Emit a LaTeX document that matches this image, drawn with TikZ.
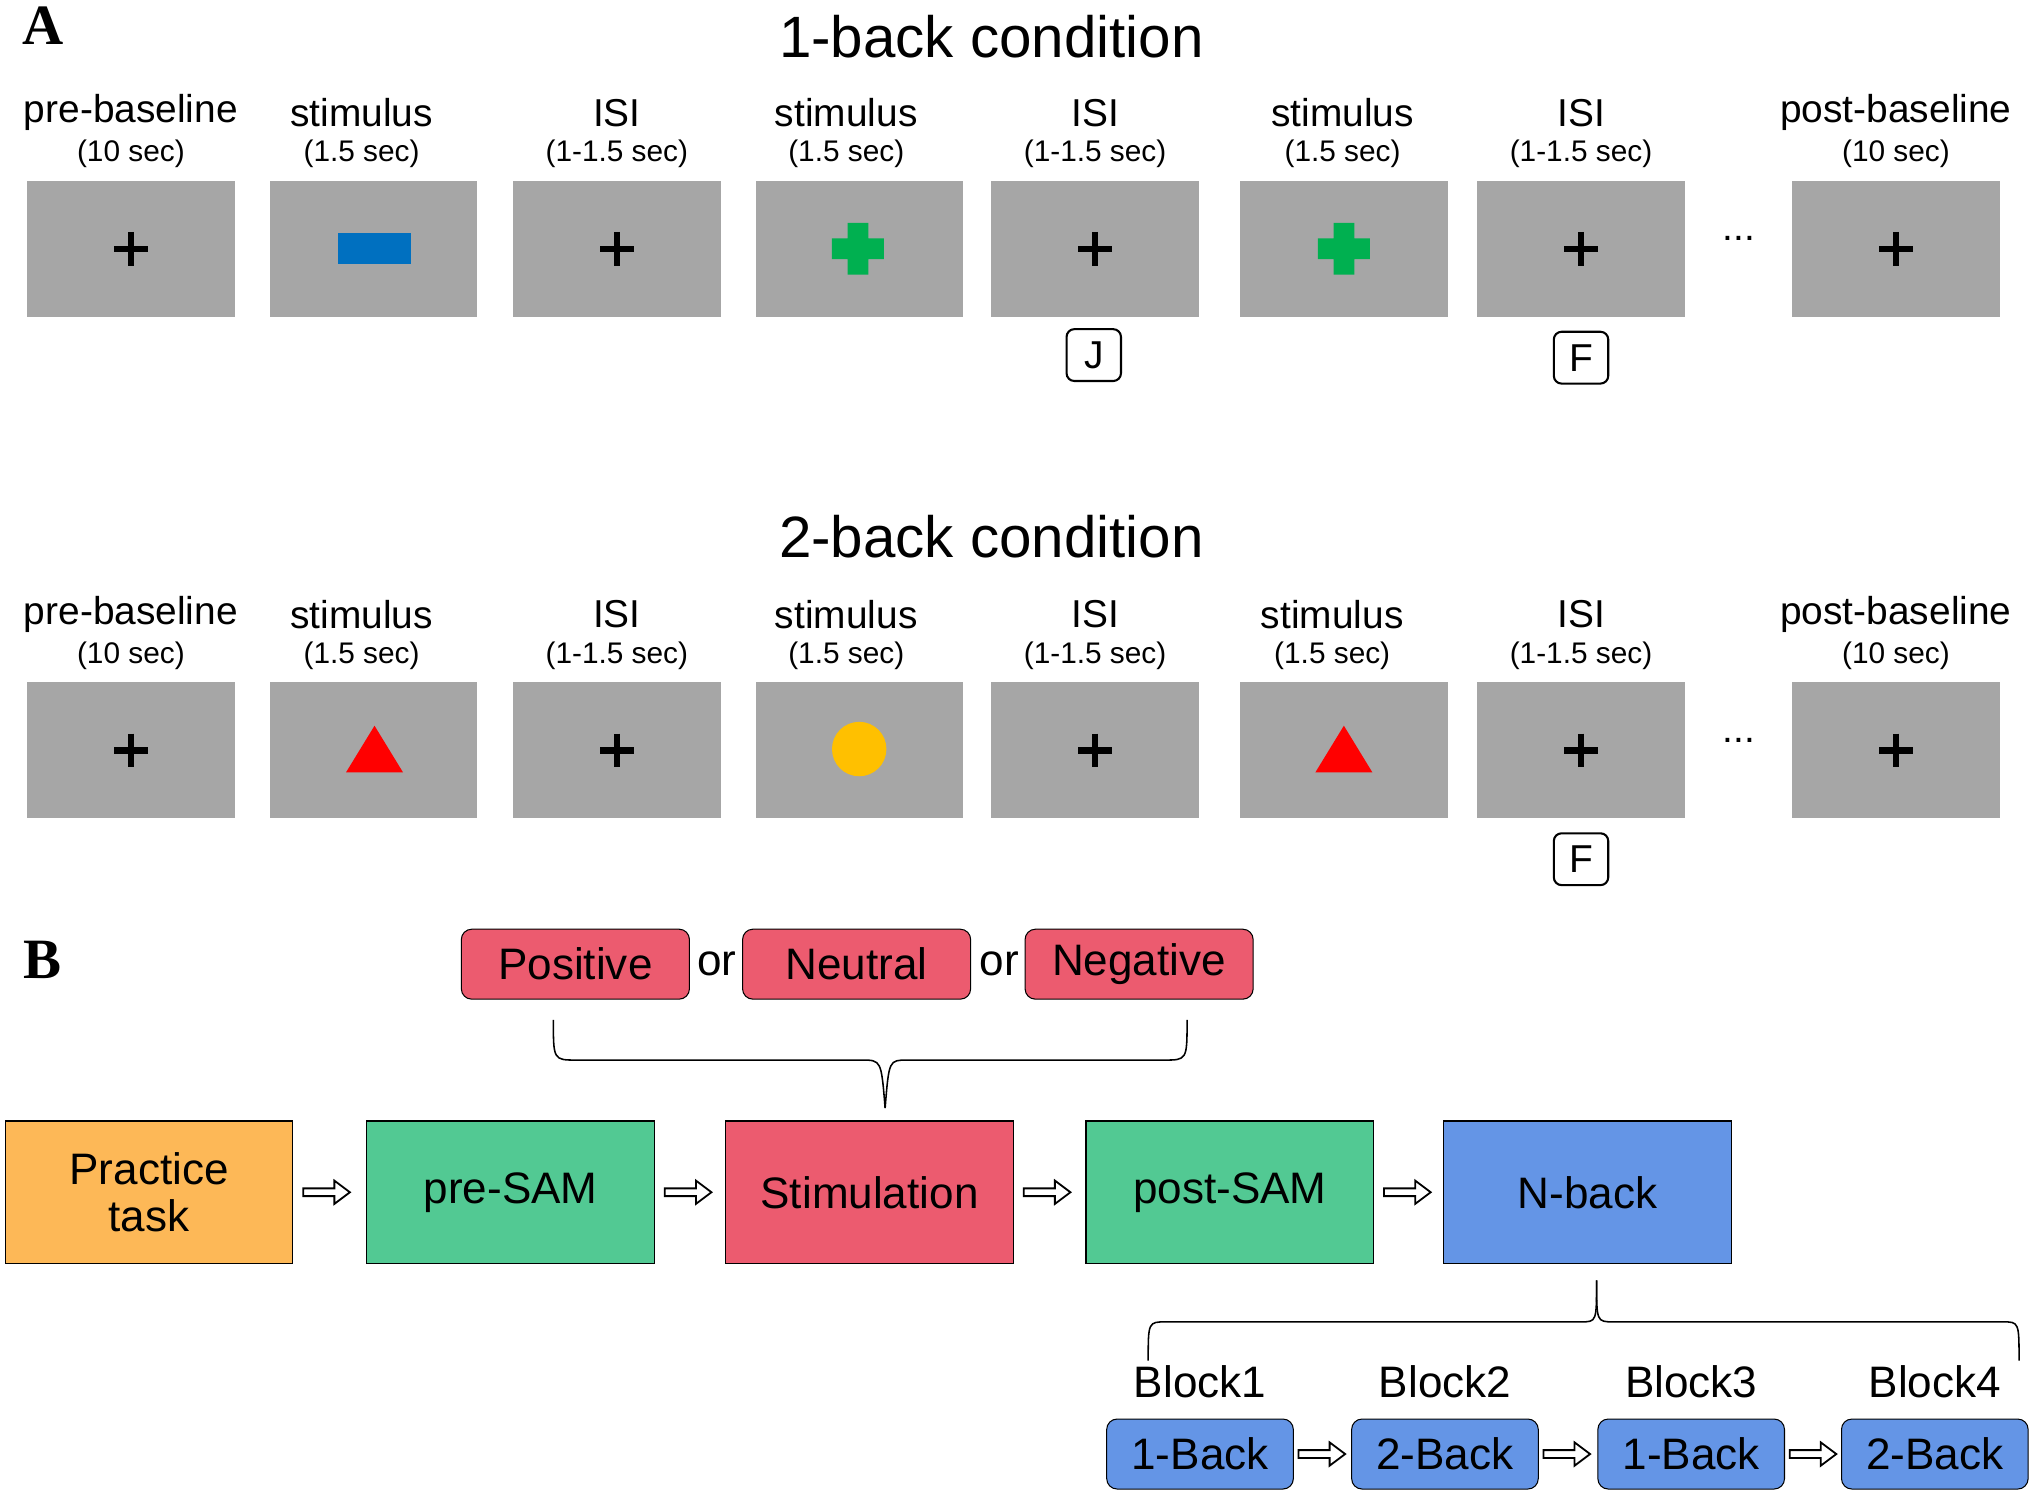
\documentclass[tikz,border=0pt]{standalone}
\usepackage{fontspec}
\setmainfont{Liberation Sans}
\newfontfamily\serifb{Liberation Serif}
\begin{document}
\begin{tikzpicture}[x=0.5pt,y=-0.5pt,
 scr/.style={fill=black!35,draw=none,minimum width=80pt,minimum height=52.5pt,inner sep=0},
 lab/.style={font=\fontsize{15}{17}\selectfont,inner sep=0},
 sec/.style={font=\fontsize{11.5}{13}\selectfont,inner sep=0},
 key/.style={draw,rounded corners=3pt,line width=0.8pt,minimum width=21pt,minimum height=20pt,font=\fontsize{15}{17}\selectfont,inner sep=0},
 ttl/.style={font=\fontsize{22.5}{26}\selectfont},
 emo/.style={draw,rounded corners=4pt,fill=emo,minimum width=88pt,minimum height=27pt,font=\fontsize{17}{20}\selectfont,inner sep=0},
 big/.style={draw,minimum width=111pt,minimum height=55pt,font=\fontsize{17}{20}\selectfont,align=center,inner sep=0},
 bk/.style={draw,rounded corners=4pt,fill=nb,minimum width=72pt,minimum height=27pt,font=\fontsize{17}{20}\selectfont,inner sep=0},
 pc/.style={line width=2.5pt}]
\definecolor{emo}{HTML}{EC5B6F}
\definecolor{nb}{HTML}{6495E6}
\definecolor{og}{HTML}{FDB857}
\definecolor{gr}{HTML}{52C993}
\useasboundingbox (0,0) rectangle (1568,1151);
\newcommand{\fixc}[2]{\draw[pc] (#1-13,#2)--(#1+13,#2) (#1,#2-13)--(#1,#2+13);}
\newcommand{\harr}[3]{\draw[line width=0.7pt,fill=white] (#1,#2-3)--(#1+#3-12,#2-3)--(#1+#3-12,#2-9)--(#1+#3,#2)--(#1+#3-12,#2+9)--(#1+#3-12,#2+3)--(#1,#2+3)--cycle;}
\node[font=\serifb\bfseries\fontsize{22}{26}\selectfont] (A) at (33,20) {A};
\node[font=\serifb\bfseries\fontsize{22}{26}\selectfont] (B) at (33,741) {B};
\node[ttl] (t1) at (765,28) {1-back condition};
\node[ttl] (t2) at (765,414) {2-back condition};
\foreach \r/\yb/\yl/\sx in {1/192/87/1036,2/579/474/1028}{
 \foreach \i/\x/\lx/\a/\b in {1/101/101/pre-baseline/(10 sec),2/288/279/stimulus/(1.5 sec),3/476/476/ISI/(1-1.5 sec),4/663/653/stimulus/(1.5 sec),5/845/845/ISI/(1-1.5 sec),6/1037/\sx/stimulus/(1.5 sec),7/1220/1220/ISI/(1-1.5 sec),8/1463/1463/post-baseline/(10 sec)}{
  \node[scr] (s\r\i) at (\x,\yb) {};
  \node[lab] (l\r\i) at (\lx,\yl) {\a};
  \node[sec] (c\r\i) at (\lx,\yl+32) {\b};
 }
 \node[lab] (d\r) at (1342,\yb-8) {...};
}
\foreach \x in {101,476,845,1220,1463}{\fixc{\x}{192}\fixc{\x}{579}}
\definecolor{sblue}{HTML}{0070C0}
\definecolor{sgreen}{HTML}{00B050}
\definecolor{syel}{HTML}{FFC000}
\fill[sblue] (261,180) rectangle (317,204);
\fill[sgreen] (654,172) rectangle (670,212) (642,184) rectangle (682,200);
\fill[sgreen] (1029,172) rectangle (1045,212) (1017,184) rectangle (1057,200);
\fill[red] (289,560)--(311,596)--(267,596)--cycle;
\fill[red] (1037,560)--(1059,596)--(1015,596)--cycle;
\fill[syel] (663,578) circle (21);
\node[key] (kj) at (844,274) {J};
\node[key] (kf1) at (1220,276) {F};
\node[key] (kf2) at (1220,663) {F};
% B
\node[emo] (pos) at (444,744) {Positive};
\node[emo] (neu) at (661,744) {Neutral};
\node[emo] (neg) at (879,744) {Negative};
\node[lab,font=\fontsize{17}{20}\selectfont] (or1) at (553,744) {or};
\node[lab,font=\fontsize{17}{20}\selectfont] (or2) at (771,744) {or};
\draw[line width=0.6pt] (427,787) .. controls (427,818) .. (445,818) -- (665,818) .. controls (680,818) .. (683,855);
\draw[line width=0.6pt] (916,787) .. controls (916,818) .. (898,818) -- (700,818) .. controls (686,818) .. (683,855);
\node[big,fill=og] (pt) at (115,920) {Practice\\[-2pt]task};
\node[big,fill=gr] (pre) at (394,920) {pre-SAM};
\node[big,fill=emo] (st) at (671,920) {Stimulation};
\node[big,fill=gr] (post) at (949,920) {post-SAM};
\node[big,fill=nb] (nbk) at (1225,920) {N-back};
\harr{234}{920}{36}\harr{513}{920}{36}\harr{790}{920}{36}\harr{1068}{920}{36}
\draw[line width=0.6pt] (1232,988) .. controls (1232,1020) .. (1220,1020) -- (900,1020) .. controls (886,1020) .. (886,1050);
\draw[line width=0.6pt] (1232,988) .. controls (1232,1020) .. (1245,1020) -- (1545,1020) .. controls (1558,1020) .. (1558,1050);
\foreach \i/\x/\t in {1/926/1-Back,2/1115/2-Back,3/1305/1-Back,4/1493/2-Back}{
 \node[lab,font=\fontsize{17}{20}\selectfont] (bl\i) at (\x,1066) {Block\i};
 \node[bk] (b\i) at (\x,1122) {\t};
}
\harr{1002}{1122}{36}\harr{1191}{1122}{36}\harr{1381}{1122}{36}
\end{tikzpicture}
\end{document}
